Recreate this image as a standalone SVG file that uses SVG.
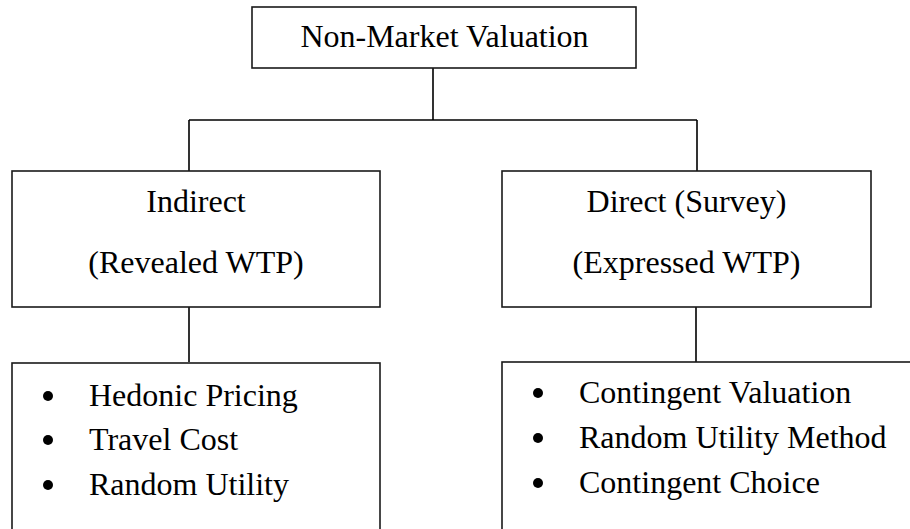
<svg xmlns="http://www.w3.org/2000/svg" width="910" height="529" viewBox="0 0 910 529">
<style>
.box{fill:#fff;stroke:#1a1a1a;stroke-width:1.6}
.t{font-family:"Liberation Serif","Times New Roman",serif;font-size:32px;fill:#000}
.c{text-anchor:middle}
.ln{fill:none;stroke:#000;stroke-width:1.6}
.b{fill:#000}
</style>
<rect width="910" height="529" fill="#fff"/>
<g id="connectors">
<path class="ln" d="M433 68V120M189 120H697M189 120V171M697 120V171M189 307V362M696 307V362"/>
</g>
<g id="root">
<rect class="box" x="252" y="7" width="384" height="61"/>
<text class="t c" x="444.5" y="47">Non-Market Valuation</text>
</g>
<g id="indirect">
<rect class="box" x="12" y="171" width="368" height="136"/>
<text class="t c" x="196" y="212">Indirect</text>
<text class="t c" x="196" y="273">(Revealed WTP)</text>
</g>
<g id="direct">
<rect class="box" x="502" y="171" width="369" height="136"/>
<text class="t c" x="686.5" y="212">Direct (Survey)</text>
<text class="t c" x="686.5" y="273">(Expressed WTP)</text>
</g>
<g id="indirect-methods">
<rect class="box" x="12" y="363" width="368" height="180"/>
<circle class="b" cx="48" cy="396" r="5"/>
<circle class="b" cx="48" cy="440" r="5"/>
<circle class="b" cx="48" cy="485" r="5"/>
<text class="t" x="89" y="406">Hedonic Pricing</text>
<text class="t" x="89" y="450">Travel Cost</text>
<text class="t" x="89" y="495">Random Utility</text>
</g>
<g id="direct-methods">
<rect class="box" x="502" y="362" width="420" height="180"/>
<circle class="b" cx="538" cy="393" r="5"/>
<circle class="b" cx="538" cy="438" r="5"/>
<circle class="b" cx="538" cy="483" r="5"/>
<text class="t" x="579" y="403">Contingent Valuation</text>
<text class="t" x="579" y="448">Random Utility Method</text>
<text class="t" x="579" y="493">Contingent Choice</text>
</g>
</svg>
